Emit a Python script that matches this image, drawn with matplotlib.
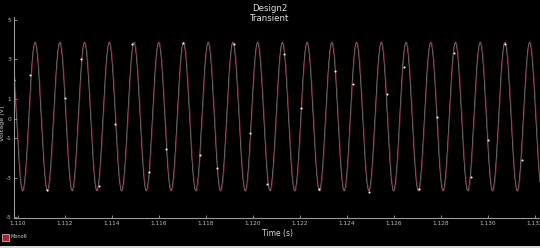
import numpy as np
import matplotlib
matplotlib.use('Agg')
import matplotlib.pyplot as plt
from matplotlib.patches import Rectangle

# waveform (sine seen in the transient plot)
amplitude = 3.76       # V
offset = 0.10          # V
freq = 950.0           # Hz
t_peak = 1.11072       # s, first crest
red_lag = 0.00003      # s, red trace sits just behind the grey one

# sampled markers on the grey trace
marker_t = [1.10983, 1.11051, 1.11123, 1.11199, 1.11266, 1.11343, 1.11414,
            1.11486, 1.11558, 1.11630, 1.11702, 1.11774, 1.11846, 1.11918,
            1.11989, 1.12061, 1.12133, 1.12205, 1.12281, 1.12349, 1.12425,
            1.12493, 1.12569, 1.12641, 1.12708, 1.12784, 1.12856, 1.12928,
            1.13000, 1.13072, 1.13144]
marker_v = [1.98, 2.23, -3.65, 1.02, 3.00, -3.45, -0.30, 3.76, -2.69, -1.57,
            3.86, -1.83, -2.49, 3.76, -0.71, -3.30, 3.30, 0.51, -3.60, 2.39,
            1.73, -3.71, 1.27, 2.64, -3.60, 0.10, 3.35, -2.99, -1.07, 3.81,
            -2.08]

x_ticks = [1.110, 1.112, 1.114, 1.116, 1.118, 1.120, 1.122, 1.124,
           1.126, 1.128, 1.130, 1.132]
y_ticks = [5, 3, 1, 0, -1, -3, -5]

t = np.linspace(1.1095, 1.1325, 6000)
v_grey = offset + amplitude * np.cos(2 * np.pi * freq * (t - t_peak))
v_red = offset + amplitude * 1.01 * np.cos(2 * np.pi * freq * (t - t_peak - red_lag))

fig = plt.figure(figsize=(5.40, 2.48), dpi=100, facecolor='black')
ax = fig.add_axes([0.026, 0.121, 0.974, 0.81])
ax.set_facecolor('black')

ax.plot(t, v_red, '-', c='#7c1529', lw=0.5)
ax.plot(t, v_grey, '-', c='#8e8e8e', lw=0.45)
ax.plot(marker_t, marker_v, 'o', c='#f0f0f0', ms=1.5, mec='none')

ax.set_xlim([1.10983, 1.13222])
ax.set_ylim([-5.05, 5.15])
ax.set_xticks(x_ticks)
ax.set_xticklabels(['%.3f' % x for x in x_ticks])
ax.set_yticks(y_ticks)
ax.set_yticklabels([str(y) for y in y_ticks])
ax.tick_params(colors='#bcbcbc', labelsize=4.2, length=2, width=0.5,
               direction='in', pad=2)
for side in ['top', 'right']:
    ax.spines[side].set_visible(False)
for side in ['left', 'bottom']:
    ax.spines[side].set_color('#9a9a9a')
    ax.spines[side].set_linewidth(0.8)

ax.set_xlabel('Time (s)', color='#d8d8d8', fontsize=5.5, labelpad=2)
ax.set_ylabel('Voltage (V)', color='#d0d0d0', fontsize=4.6)
ax.yaxis.set_label_coords(-0.018, 0.47)

fig.text(0.5, 0.985, 'Design2', color='#e0e0e0', fontsize=6.2,
         ha='center', va='top')
fig.text(0.5, 0.945, 'Transient', color='#e0e0e0', fontsize=6.2,
         ha='center', va='top')

# legend entry at bottom left
fig.patches.append(Rectangle((0.004, 0.03), 0.012, 0.028, transform=fig.transFigure,
                             facecolor='#b02030', edgecolor='white', lw=0.4))
fig.text(0.020, 0.045, 'Mono6', color='#d0d0d0', fontsize=3.6, va='center')
fig.patches.append(Rectangle((0, 0), 1, 0.01, transform=fig.transFigure,
                             facecolor='#d8d8d8', edgecolor='none'))

fig.savefig('out.png', dpi=100, facecolor='black')
